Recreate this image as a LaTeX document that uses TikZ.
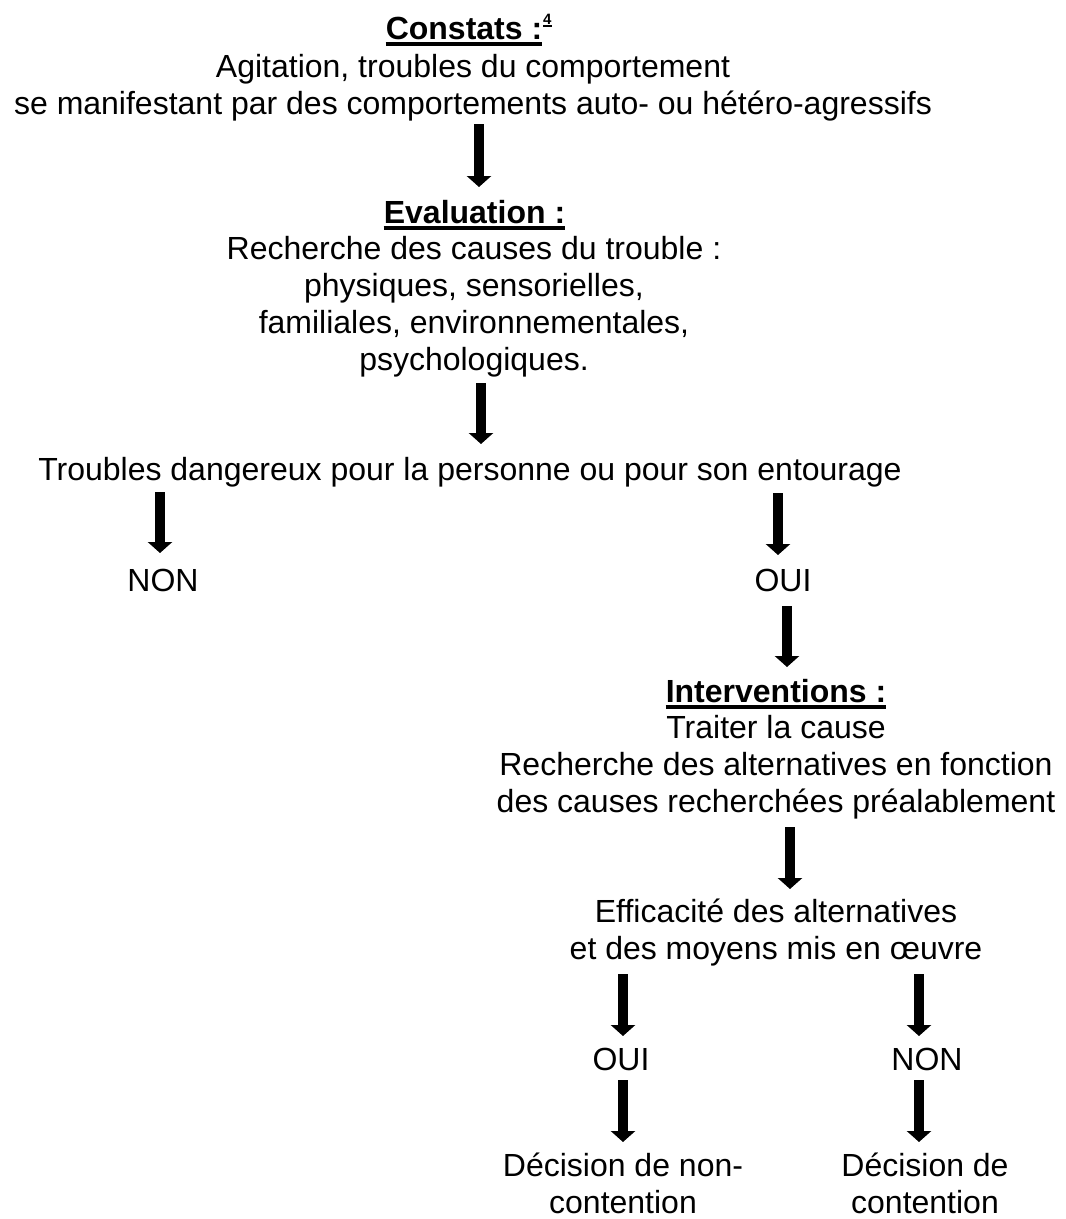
\documentclass[tikz,border=0pt]{standalone}
\usepackage{fontspec}
\setmainfont{Liberation Sans}
\usetikzlibrary{arrows.meta}
\begin{document}
\begin{tikzpicture}[x=1pt,y=-1pt,
  txt/.style={inner sep=0pt, anchor=base, align=center, font=\fontsize{32}{37}\selectfont},
  head/.style={txt, font=\fontsize{32}{37}\selectfont\bfseries},
  uline/.style={line width=3.5pt},
  flow/.style={line width=10.5pt, -{Triangle[width=24pt,length=11pt]}}]
\useasboundingbox[fill=white] (0,0) rectangle (1066,1219);

% blocks (anchor base = baseline of the last line)
\node[head] (constats) at (464,39) {Constats :};
\node[inner sep=0pt, anchor=base west, font=\fontsize{15}{15}\selectfont\bfseries] (fn) at (543,24) {4};
\node[txt] (constat) at (473,114) {Agitation, troubles du comportement\\se manifestant par des comportements auto- ou hétéro-agressifs};

\node[head] (evaluation) at (474.5,223) {Evaluation :};
\node[txt] (causes) at (474,370) {Recherche des causes du trouble :\\physiques, sensorielles,\\familiales, environnementales,\\psychologiques.};

\node[txt] (troubles) at (470,480) {Troubles dangereux pour la personne ou pour son entourage};
\node[txt] (non1) at (163,591) {NON};
\node[txt] (oui1) at (783,591) {OUI};

\node[head] (interv) at (776,702) {Interventions :};
\node[txt] (traiter) at (776,812) {Traiter la cause\\Recherche des alternatives en fonction\\des causes recherchées préalablement};

\node[txt] (effic) at (776,959) {Efficacité des alternatives\\et des moyens mis en œuvre};
\node[txt] (oui2) at (621,1070) {OUI};
\node[txt] (non2) at (927,1070) {NON};
\node[txt] (decnon) at (623,1213) {Décision de non-\\contention};
\node[txt] (decoui) at (925,1213) {Décision de\\contention};

% underlines
\draw[uline] ([yshift=-5pt]constats.base west) -- ([yshift=-5pt]constats.base east);
\draw[line width=1.5pt] ([yshift=-2pt]fn.base west) -- ([yshift=-2pt]fn.base east);
\draw[uline] ([yshift=-5pt]evaluation.base west) -- ([yshift=-5pt]evaluation.base east);
\draw[uline] ([yshift=-5pt]interv.base west) -- ([yshift=-5pt]interv.base east);

% arrow end points
\coordinate (a1s) at (479,124);  \coordinate (a1e) at (479,187);
\coordinate (a2s) at (481,383);  \coordinate (a2e) at (481,444);
\coordinate (a3s) at (160,492);  \coordinate (a3e) at (160,553);
\coordinate (a4s) at (778,493);  \coordinate (a4e) at (778,555);
\coordinate (a5s) at (787,606);  \coordinate (a5e) at (787,667);
\coordinate (a6s) at (790,827);  \coordinate (a6e) at (790,889);
\coordinate (a7s) at (623,974);  \coordinate (a7e) at (623,1036);
\coordinate (a8s) at (919,974);  \coordinate (a8e) at (919,1036);
\coordinate (a9s) at (623,1080); \coordinate (a9e) at (623,1142);
\coordinate (a10s) at (919,1080); \coordinate (a10e) at (919,1142);

\foreach \i in {1,...,10} {\draw[flow] (a\i s) -- (a\i e);}
\end{tikzpicture}
\end{document}
